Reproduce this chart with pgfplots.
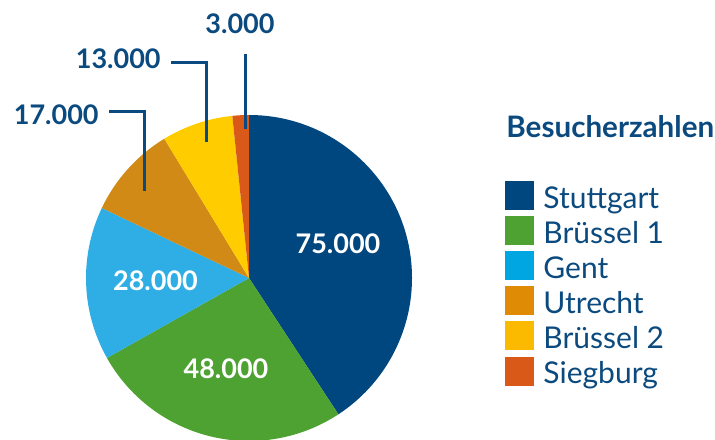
\documentclass[border=0pt]{standalone}
\usepackage{pgfplots}
\pgfplotsset{compat=1.18}
\usepackage{pgfplotstable}
\usepackage{fontspec}
\setmainfont{Lato}

% slice colours (pie) and legend colours
\definecolor{c0}{HTML}{00467F}
\definecolor{c1}{HTML}{4EA232}
\definecolor{c2}{HTML}{2EAEE4}
\definecolor{c3}{HTML}{D08A15}
\definecolor{c4}{HTML}{FFCC00}
\definecolor{c5}{HTML}{D95A18}
\definecolor{l0}{HTML}{00467F}
\definecolor{l1}{HTML}{4EA232}
\definecolor{l2}{HTML}{00A6E2}
\definecolor{l3}{HTML}{E08B06}
\definecolor{l4}{HTML}{FBBA00}
\definecolor{l5}{HTML}{D95A18}
\definecolor{txt}{HTML}{0B4A7E}

% visitors in thousands
\pgfplotstableread[col sep=comma]{
name,tsd
Stuttgart,75
Brüssel 1,48
Gent,28
Utrecht,17
Brüssel 2,13
Siegburg,3
}\besucher

% total and start/end angles of every slice (clockwise from the top)
\def\total{0}
\foreach \i in {0,...,5}{%
  \pgfplotstablegetelem{\i}{tsd}\of\besucher
  \pgfmathsetmacro\tA{\total+\pgfplotsretval}%
  \xdef\total{\tA}}
\def\cum{0}
\foreach \i in {0,...,5}{%
  \pgfplotstablegetelem{\i}{tsd}\of\besucher
  \pgfmathsetmacro\sA{90-360*(\cum/\total)}%
  \pgfmathsetmacro\cA{\cum+\pgfplotsretval}%
  \pgfmathsetmacro\eA{90-360*(\cA/\total)}%
  \expandafter\xdef\csname sa\i\endcsname{\sA}%
  \expandafter\xdef\csname ea\i\endcsname{\eA}%
  \xdef\cum{\cA}}

\newcommand\lbl{\fontsize{13.5}{15}\selectfont\bfseries}
\newcommand\leg{\fontsize{15}{17}\selectfont}

\begin{document}
\begin{tikzpicture}
\begin{axis}[
    scale only axis,
    width=357.5pt, height=219.5pt,
    xmin=0, xmax=715, ymin=0, ymax=439,
    y dir=reverse,
    hide axis,
]
% pie slices, radius 163 px = 81.5pt
\pgfplotsinvokeforeach{0,...,5}{
  \fill[c#1] (axis cs:249,278) -- ++(\csname sa#1\endcsname:81.5pt)
     arc[start angle=\csname sa#1\endcsname, end angle=\csname ea#1\endcsname, radius=81.5pt] -- cycle;
}
% values inside
\node[anchor=base, white, font=\lbl] at (axis cs:338,253) {75.000};
\node[anchor=base, white, font=\lbl] at (axis cs:226,378) {48.000};
\node[anchor=base, white, font=\lbl] at (axis cs:155.5,290) {28.000};
% leader lines and outer values
\draw[txt, line width=1.5pt] (axis cs:245,54) -- (axis cs:245,129);
\draw[txt, line width=1.5pt] (axis cs:171,62.3) -- (axis cs:206,62.3) -- (axis cs:206,142);
\draw[txt, line width=1.5pt] (axis cs:109,111.7) -- (axis cs:144,111.7) -- (axis cs:144,191);
\node[anchor=base, txt, font=\lbl] at (axis cs:240,33) {3.000};
\node[anchor=base east, txt, font=\lbl, inner xsep=0pt] at (axis cs:161,68) {13.000};
\node[anchor=base east, txt, font=\lbl, inner xsep=0pt] at (axis cs:99,124) {17.000};
% legend
\node[anchor=base west, txt, font=\fontsize{14.8}{17}\selectfont\bfseries, inner xsep=0pt] at (axis cs:506,137) {Besucherzahlen};
\fill[l0] (axis cs:505,181) rectangle (axis cs:534,210);
\fill[l1] (axis cs:505,216) rectangle (axis cs:534,245);
\fill[l2] (axis cs:505,251) rectangle (axis cs:534,280);
\fill[l3] (axis cs:505,286) rectangle (axis cs:534,315);
\fill[l4] (axis cs:505,321) rectangle (axis cs:534,350);
\fill[l5] (axis cs:505,357) rectangle (axis cs:534,386);
\node[anchor=base west, txt, font=\leg, inner xsep=0pt] at (axis cs:543,208) {Stuttgart};
\node[anchor=base west, txt, font=\leg, inner xsep=0pt] at (axis cs:543,243) {Brüssel 1};
\node[anchor=base west, txt, font=\leg, inner xsep=0pt] at (axis cs:543,278) {Gent};
\node[anchor=base west, txt, font=\leg, inner xsep=0pt] at (axis cs:543,313) {Utrecht};
\node[anchor=base west, txt, font=\leg, inner xsep=0pt] at (axis cs:543,348) {Brüssel 2};
\node[anchor=base west, txt, font=\leg, inner xsep=0pt] at (axis cs:543,383.5) {Siegburg};
\end{axis}
\pgfresetboundingbox
\useasboundingbox (0,0) rectangle (357.5pt,219.5pt);
\end{tikzpicture}
\end{document}
